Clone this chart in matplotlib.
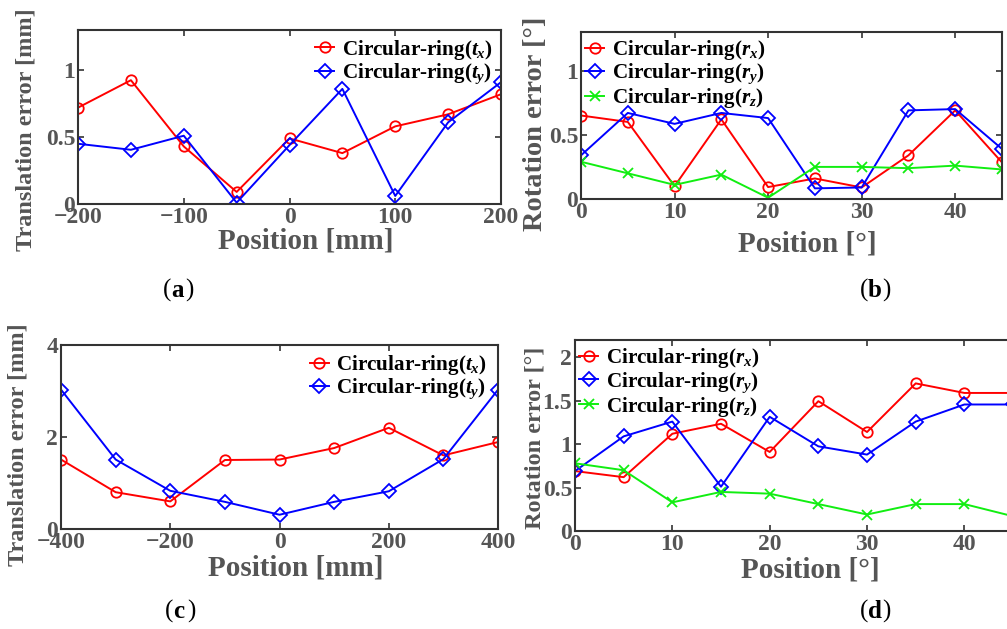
import numpy as np
import matplotlib
matplotlib.use('Agg')
import matplotlib.pyplot as plt

plt.rcParams['font.family'] = ['Liberation Serif', 'DejaVu Serif']
plt.rcParams['font.weight'] = 'bold'
plt.rcParams['axes.labelweight'] = 'bold'
plt.rcParams['mathtext.fontset'] = 'custom'
plt.rcParams['mathtext.rm'] = 'Liberation Serif:bold'
plt.rcParams['mathtext.it'] = 'Liberation Serif:italic:bold'

# ---- data ----
pos_a = [-200, -150, -100, -50, 0, 50, 100, 150, 200]
tx_a = [0.72, 0.925, 0.43, 0.09, 0.49, 0.38, 0.58, 0.67, 0.82]
ty_a = [0.45, 0.405, 0.51, 0.01, 0.44, 0.86, 0.06, 0.61, 0.91]

ang = [0, 5, 10, 15, 20, 25, 30, 35, 40, 45]
rx_b = [0.65, 0.60, 0.10, 0.62, 0.093, 0.16, 0.09, 0.34, 0.69, 0.285]
ry_b = [0.34, 0.67, 0.585, 0.67, 0.63, 0.083, 0.09, 0.69, 0.70, 0.39]
rz_b = [0.29, 0.20, 0.11, 0.19, 0.01, 0.25, 0.25, 0.24, 0.26, 0.23]

pos_c = [-400, -300, -200, -100, 0, 100, 200, 300, 400]
tx_c = [1.51, 0.80, 0.60, 1.50, 1.51, 1.76, 2.20, 1.60, 1.89]
ty_c = [3.03, 1.51, 0.83, 0.59, 0.31, 0.59, 0.82, 1.52, 3.03]

rx_d = [0.69, 0.62, 1.12, 1.235, 0.91, 1.495, 1.14, 1.70, 1.59, 1.59]
ry_d = [0.69, 1.09, 1.26, 0.51, 1.315, 0.975, 0.88, 1.26, 1.457, 1.457]
rz_d = [0.78, 0.70, 0.33, 0.45, 0.43, 0.31, 0.19, 0.31, 0.31, 0.17]

gray = '#555555'
spine = '#333333'
green = '#11ee11'

fig = plt.figure(figsize=(10.07, 6.29), dpi=100)


def style(ax, xlabel, ylabel, xticks, yticks, xlim, ylim, yticklabels=None,
          xl_y=-0.14, yl_xy=(-0.1, 0.45), yl_size=17.5):
    ax.set_xlim(xlim)
    ax.set_ylim(ylim)
    ax.set_xticks(xticks)
    ax.set_xticklabels([str(v).replace('-', '\u2212') for v in xticks])
    ax.set_yticks(yticks)
    if yticklabels is not None:
        ax.set_yticklabels(yticklabels)
    ax.tick_params(direction='in', top=True, right=True, length=4, width=1.2,
                   colors=spine, labelcolor=gray, labelsize=17, pad=2)
    for s in ax.spines.values():
        s.set_color(spine)
        s.set_linewidth(1.5)
    ax.set_xlabel(xlabel, fontsize=21, color=gray)
    ax.xaxis.set_label_coords(0.538, xl_y)
    ax.set_ylabel(ylabel, fontsize=yl_size, color=gray, va='center')
    ax.yaxis.set_label_coords(*yl_xy)


def line(ax, x, y, c, m, lab):
    if m == 'x':
        ax.plot(x, y, color=c, marker=m, ms=7, mew=1.3, lw=1.4, label=lab)
    else:
        ax.plot(x, y, color=c, marker=m, ms=7.5 if m == 'o' else 7, mfc='none',
                mew=1.3, lw=1.4, label=lab)


def legend(ax, loc, anchor):
    ax.legend(loc=loc, bbox_to_anchor=anchor, frameon=False, fontsize=15.2,
              handlelength=0.9, handletextpad=0.35, labelspacing=0.0,
              borderaxespad=0.0, borderpad=0.2)


# (a)
ax = fig.add_axes([0.0775, 0.6757, 0.420, 0.2766])
line(ax, pos_a, tx_a, 'red', 'o', r'Circular-ring($t_x$)')
line(ax, pos_a, ty_a, 'blue', 'D', r'Circular-ring($t_y$)')
style(ax, 'Position [mm]', 'Translation error [mm]', [-200, -100, 0, 100, 200],
      [0, 0.5, 1], (-200, 200), (0, 1.3), ['0', '0.5', '1'],
      xl_y=-0.138, yl_xy=(-0.123, 0.425), yl_size=17.5)
legend(ax, 'upper right', (0.99, 0.98))

# (b)
ax = fig.add_axes([0.577, 0.6836, 0.418, 0.2655])
line(ax, ang, rx_b, 'red', 'o', r'Circular-ring($r_x$)')
line(ax, ang, ry_b, 'blue', 'D', r'Circular-ring($r_y$)')
line(ax, ang, rz_b, green, 'x', r'Circular-ring($r_z$)')
style(ax, 'Position [\u00b0]', 'Rotation error [\u00b0]', [0, 10, 20, 30, 40],
      [0, 0.5, 1], (0, 45), (0, 1.3), ['0', '0.5', '1'],
      xl_y=-0.186, yl_xy=(-0.109, 0.449), yl_size=20.5)
legend(ax, 'upper left', (0.0, 0.99))

# (c)
ax = fig.add_axes([0.0606, 0.159, 0.434, 0.2925])
line(ax, pos_c, tx_c, 'red', 'o', r'Circular-ring($t_x$)')
line(ax, pos_c, ty_c, 'blue', 'D', r'Circular-ring($t_y$)')
style(ax, 'Position [mm]', 'Translation error [mm]', [-400, -200, 0, 200, 400],
      [0, 2, 4], (-400, 400), (0, 4),
      xl_y=-0.141, yl_xy=(-0.098, 0.457), yl_size=17.5)
legend(ax, 'upper right', (0.985, 0.98))

# (d) - right edge runs past the picture
ax = fig.add_axes([0.571, 0.1558, 0.435, 0.3037])
line(ax, ang, rx_d, 'red', 'o', r'Circular-ring($r_x$)')
line(ax, ang, ry_d, 'blue', 'D', r'Circular-ring($r_y$)')
line(ax, ang, rz_d, green, 'x', r'Circular-ring($r_z$)')
style(ax, 'Position [\u00b0]', 'Rotation error [\u00b0]', [0, 10, 20, 30, 40],
      [0, 0.5, 1, 1.5, 2], (0, 45), (0, 2.2), ['0', '0.5', '1', '1.5', '2'],
      xl_y=-0.136, yl_xy=(-0.091, 0.49), yl_size=17.5)
legend(ax, 'upper left', (0.0, 0.99))

# panel labels
for x, y, t in [(0.170, 0.528, 'a'), (0.862, 0.528, 'b'),
                (0.172, 0.018, 'c'), (0.862, 0.018, 'd')]:
    fig.text(x, y, '(', fontsize=18, fontweight='normal', ha='right', va='baseline')
    fig.text(x, y, t, fontsize=18, fontweight='bold', ha='left', va='baseline')
    fig.text(x + 0.014, y, ')', fontsize=18, fontweight='normal', ha='left', va='baseline')

fig.savefig('out.png', dpi=100)
